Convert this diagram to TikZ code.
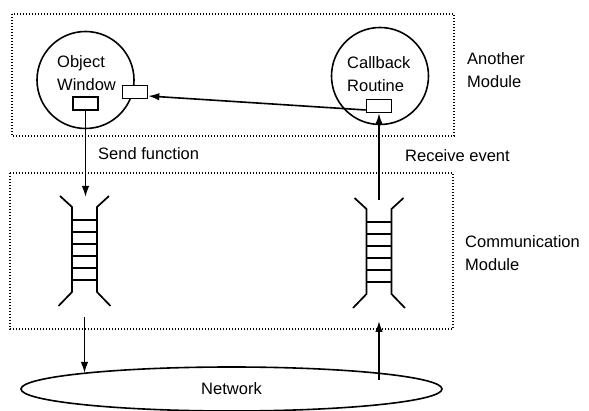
\documentclass[tikz,border=0pt]{standalone}
\usepackage{fontspec}
\setmainfont{Liberation Sans}
\usetikzlibrary{arrows.meta,shapes.geometric}
\begin{document}
\begin{tikzpicture}[x=1pt, y=-1pt,
    font=\fontsize{16.5}{23}\selectfont,
    every node/.style={inner sep=0pt},
    modbox/.style={line width=1.5pt, dash pattern=on 1.3pt off 1.7pt},
    proc/.style={draw, circle, line width=1.6pt, minimum size=97pt},
    port/.style={draw, fill=white, line width=1.6pt, minimum width=25pt, minimum height=13pt},
    arr/.style={line width=1.6pt, -{Latex[length=11pt,width=7.5pt]}},
    rung/.style={line width=1.7pt}]
    \useasboundingbox (0,0) rectangle (589,411);
    % module boundaries
    \draw[modbox] (12,14) rectangle (454,136);
    \draw[modbox] (10,173) rectangle (453,329);
    \node[anchor=north west, align=left] (another) at (467,52) {Another\\Module};
    \node[anchor=north west, align=left] (comm) at (465,235) {Communication\\Module};
    % processes with their ports
    \node[proc] (ow) at (85.5,80) {};
    \node[proc] (cb) at (380,76) {};
    \node[anchor=north west, align=left] (owtext) at (57,55) {Object\\Window};
    \node[anchor=north west, align=left] (cbtext) at (347,56) {Callback\\Routine};
    \node[port] (owsend) at (85.5,103.5) {};
    \node[port] (owrecv) at (135,92) {};
    \node[port] (cbrecv) at (379,106) {};
    % message queues
    \foreach \q/\cx/\ty in {qa/84.5/207, qb/379/209} {
        \draw[rung] (\cx-24.5,\ty-11) -- (\cx-12.5,\ty) -- (\cx-12.5,\ty+85) -- (\cx-26,\ty+99);
        \draw[rung] (\cx+24.5,\ty-11) -- (\cx+12.5,\ty) -- (\cx+12.5,\ty+85) -- (\cx+26,\ty+99);
        \foreach \k in {0,...,5} \draw[rung] (\cx-12.5,\ty+13+12*\k) -- (\cx+12.5,\ty+13+12*\k);
    }
    \node[draw, ellipse, line width=1.6pt, minimum width=421pt, minimum height=44pt] (net) at (231.5,389) {Network};
    % queue ends
    \coordinate (qa-in) at (85.5,197);
    \coordinate (qa-out) at (84.5,317);
    \coordinate (netl) at (84.5,373);
    \coordinate (netr) at (379,380);
    \coordinate (qb-in) at (379,321);
    \coordinate (qb-out) at (379,200);
    \draw[arr] (owsend) -- (qa-in);
    \draw[arr] (qa-out) -- (netl);
    \draw[arr] (netr) -- (qb-in);
    \draw[arr] (qb-out) -- (cbrecv);
    \draw[arr] ([yshift=-4pt]cbrecv.west) -- ([yshift=-4pt]owrecv.east);
    \node[anchor=base west] (send) at (98,160) {Send function};
    \node[anchor=base west] (recv) at (405,162) {Receive event};
\end{tikzpicture}
\end{document}
